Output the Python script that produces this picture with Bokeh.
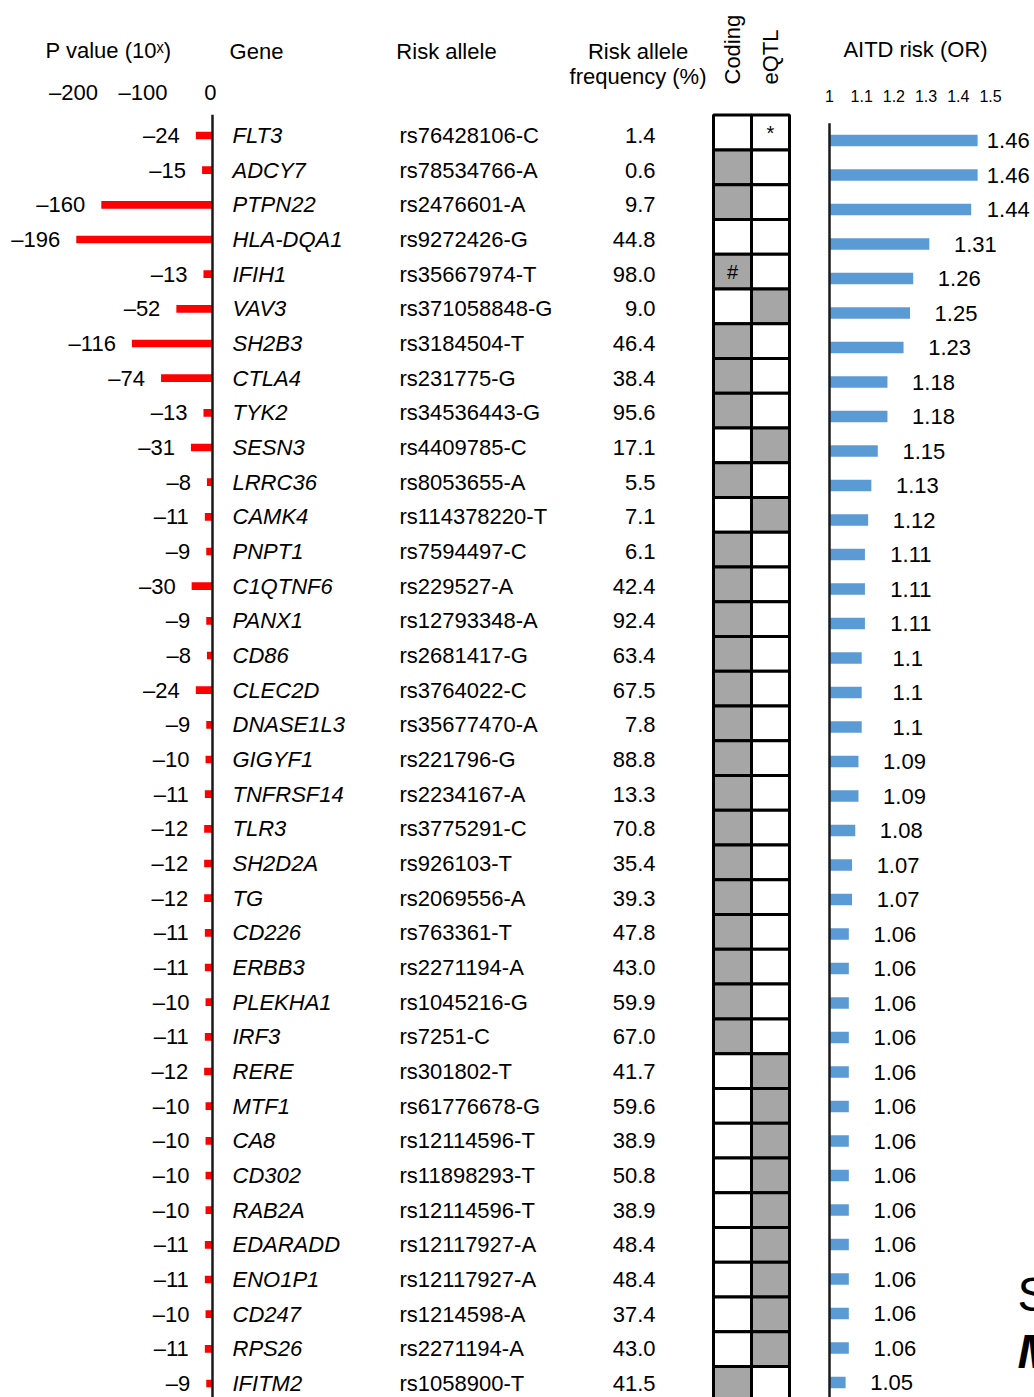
from bokeh.plotting import figure
from bokeh.layouts import row
from bokeh.models import Range1d, FactorRange, FixedTicker, ColumnDataSource
from bokeh.core.properties import value
from bokeh.embed import file_html
from bokeh.resources import INLINE

# ---------------- data ----------------
genes = ["FLT3", "ADCY7", "PTPN22", "HLA-DQA1", "IFIH1", "VAV3", "SH2B3", "CTLA4",
         "TYK2", "SESN3", "LRRC36", "CAMK4", "PNPT1", "C1QTNF6", "PANX1", "CD86",
         "CLEC2D", "DNASE1L3", "GIGYF1", "TNFRSF14", "TLR3", "SH2D2A", "TG", "CD226",
         "ERBB3", "PLEKHA1", "IRF3", "RERE", "MTF1", "CA8", "CD302", "RAB2A",
         "EDARADD", "ENO1P1", "CD247", "RPS26", "IFITM2"]
alleles = ["rs76428106-C", "rs78534766-A", "rs2476601-A", "rs9272426-G", "rs35667974-T",
           "rs371058848-G", "rs3184504-T", "rs231775-G", "rs34536443-G", "rs4409785-C",
           "rs8053655-A", "rs114378220-T", "rs7594497-C", "rs229527-A", "rs12793348-A",
           "rs2681417-G", "rs3764022-C", "rs35677470-A", "rs221796-G", "rs2234167-A",
           "rs3775291-C", "rs926103-T", "rs2069556-A", "rs763361-T", "rs2271194-A",
           "rs1045216-G", "rs7251-C", "rs301802-T", "rs61776678-G", "rs12114596-T",
           "rs11898293-T", "rs12114596-T", "rs12117927-A", "rs12117927-A", "rs1214598-A",
           "rs2271194-A", "rs1058900-T"]
freqs = ["1.4", "0.6", "9.7", "44.8", "98.0", "9.0", "46.4", "38.4", "95.6", "17.1",
         "5.5", "7.1", "6.1", "42.4", "92.4", "63.4", "67.5", "7.8", "88.8", "13.3",
         "70.8", "35.4", "39.3", "47.8", "43.0", "59.9", "67.0", "41.7", "59.6", "38.9",
         "50.8", "38.9", "48.4", "48.4", "37.4", "43.0", "41.5"]
p_exp = [-24, -15, -160, -196, -13, -52, -116, -74, -13, -31, -8, -11, -9, -30, -9, -8,
         -24, -9, -10, -11, -12, -12, -12, -11, -11, -10, -11, -12, -10, -10, -10, -10,
         -11, -11, -10, -11, -9]
coding = [0, 1, 1, 0, 1, 0, 1, 1, 1, 0, 1, 0, 1, 1, 1, 1, 1, 1, 1, 1, 1, 1, 1, 1, 1, 1, 1,
          0, 0, 0, 0, 0, 0, 0, 0, 0, 1]
eqtl = [0, 0, 0, 0, 0, 1, 0, 0, 0, 1, 0, 1, 0, 0, 0, 0, 0, 0, 0, 0, 0, 0, 0, 0, 0, 0, 0,
        1, 1, 1, 1, 1, 1, 1, 1, 1, 0]
coding_marks = [""] * 4 + ["#"] + [""] * 32
eqtl_marks = ["*"] + [""] * 36
or_vals = [1.46, 1.46, 1.44, 1.31, 1.26, 1.25, 1.23, 1.18, 1.18, 1.15, 1.13, 1.12, 1.11,
           1.11, 1.11, 1.10, 1.10, 1.10, 1.09, 1.09, 1.08, 1.07, 1.07, 1.06, 1.06, 1.06,
           1.06, 1.06, 1.06, 1.06, 1.06, 1.06, 1.06, 1.06, 1.06, 1.06, 1.05]
or_labels = ["1.46", "1.46", "1.44", "1.31", "1.26", "1.25", "1.23", "1.18", "1.18", "1.15",
             "1.13", "1.12", "1.11", "1.11", "1.11", "1.1", "1.1", "1.1", "1.09", "1.09",
             "1.08", "1.07", "1.07", "1.06", "1.06", "1.06", "1.06", "1.06", "1.06", "1.06",
             "1.06", "1.06", "1.06", "1.06", "1.06", "1.06", "1.05"]
p_ticks = [-200, -100, 0]
p_tick_labels = ["\u2013200", "\u2013100", "0"]
or_ticks = [1.0, 1.1, 1.2, 1.3, 1.4, 1.5]
or_tick_labels = ["1", "1.1", "1.2", "1.3", "1.4", "1.5"]
box_columns = ["Coding", "eQTL"]
headers = ["Gene\n ", "Risk allele\n ", "Risk allele\nfrequency (%)"]
side_letters = ["S", "M"]

# ---------------- layout helpers ----------------
FONT = "Liberation Sans"
H = 1397
TOP = 110
FRAME_TOP = TOP
FRAME_BOT = H
rows = list(range(1, len(genes) + 1))


def row_range(first_px, pitch):
    return Range1d(start=1 + (FRAME_BOT - first_px) / pitch,
                   end=1 + (FRAME_TOP - first_px) / pitch)


def make_fig(width, x_range, y_range):
    p = figure(width=width, height=H, x_range=x_range, y_range=y_range,
               output_backend="svg", toolbar_location=None,
               x_axis_location="above", y_axis_location=None,
               min_border_left=0, min_border_right=0, min_border_top=TOP,
               min_border_bottom=0, outline_line_color=None,
               background_fill_color="white", border_fill_color="white")
    p.grid.visible = False
    ax = p.xaxis[0]
    ax.axis_line_color = None
    ax.major_tick_line_color = None
    ax.minor_tick_line_color = None
    ax.major_tick_out = 0
    ax.major_tick_in = 0
    ax.minor_tick_out = 0
    ax.minor_tick_in = 0
    ax.major_label_text_font = FONT
    ax.major_label_text_font_size = "22px"
    ax.major_label_text_color = "black"
    ax.axis_label_text_font = FONT
    ax.axis_label_text_font_size = "22px"
    ax.axis_label_text_font_style = "normal"
    ax.axis_label_text_color = "black"
    return p, ax


text_y = row_range(135, 34.667)

# ---------------- P value panel ----------------
PX_P = 0.695
wa = 216
pa, axa = make_fig(wa, Range1d(-212 / PX_P, (wa - 212) / PX_P), text_y)
axa.ticker = FixedTicker(ticks=p_ticks)
axa.major_label_overrides = dict(zip(p_ticks, p_tick_labels))
axa.axis_label = "P value (10\u02e3)"
axa.major_label_standoff = 6
axa.axis_label_standoff = 14
p_src = ColumnDataSource(dict(y=rows, v=p_exp,
                              lab=["\u2013" + str(abs(v)) for v in p_exp]))
pa.hbar(y="y", left="v", right=0, height=0.22, fill_color="#ff0000",
        line_color=None, source=p_src)
pa.segment(x0=0, y0=0.4, x1=0, y1=40, line_color="#1a1a1a", line_width=2.5)
pa.text(x="v", y="y", text="lab", source=p_src, x_offset=-16, text_align="right",
        text_baseline="middle", text_font=value(FONT), text_font_size="22px",
        text_color="black")

# ---------------- text columns panel ----------------
wb = 490
pb, axb = make_fig(wb, Range1d(0, wb), text_y)
head_x = [40, 230, 422]
axb.ticker = FixedTicker(ticks=head_x)
axb.major_label_overrides = dict(zip(head_x, headers))
axb.major_label_standoff = 22
axb.major_label_text_line_height = 1.0
t_src = ColumnDataSource(dict(y=rows, g=genes, a=alleles, f=freqs))
common = dict(text_baseline="middle", text_font=value(FONT), text_font_size="22px",
              text_color="black", source=t_src)
pb.text(x=16, y="y", text="g", text_align="left", text_font_style="italic", **common)
pb.text(x=183, y="y", text="a", text_align="left", **common)
pb.text(x=439, y="y", text="f", text_align="right", **common)

# ---------------- coding / eQTL panel ----------------
wc = 90
pc, axc = make_fig(wc, FactorRange(factors=box_columns, range_padding=7 / 38,
                                   range_padding_units="absolute"),
                   row_range(132, 34.76))
axc.major_label_orientation = "vertical"
axc.major_label_standoff = 26
cx, cy, cf, cm = [], [], [], []
for r, c, e, mc, me in zip(rows, coding, eqtl, coding_marks, eqtl_marks):
    cx += [box_columns[0], box_columns[1]]
    cy += [r, r]
    cf += ["#a6a6a6" if c else "white", "#a6a6a6" if e else "white"]
    cm += [mc, me]
c_src = ColumnDataSource(dict(x=cx, y=cy, f=cf, m=cm))
pc.rect(x="x", y="y", width=1, height=1, fill_color="f", line_color="black",
        line_width=3, source=c_src)
pc.text(x="x", y="y", text="m", source=c_src, text_align="center",
        text_baseline="middle", text_font=value(FONT), text_font_size="20px",
        text_color="black")

# ---------------- OR panel ----------------
PX_OR = 322
wd = 238
pd_, axd = make_fig(wd, Range1d(1 - 33 / PX_OR, 1 + (wd - 33) / PX_OR),
                    row_range(140, 34.5))
axd.ticker = FixedTicker(ticks=or_ticks)
axd.major_label_overrides = dict(zip(or_ticks, or_tick_labels))
axd.major_label_text_font_size = "16px"
axd.axis_label = "AITD risk (OR)"
axd.major_label_standoff = 9
axd.axis_label_standoff = 25
lab_x = [min(v + 46 / PX_OR, 1.555) for v in or_vals]
o_src = ColumnDataSource(dict(y=rows, v=or_vals, lab=or_labels, lx=lab_x))
pd_.hbar(y="y", left=1, right="v", height=0.34, fill_color="#5b9bd5",
         line_color=None, source=o_src)
pd_.segment(x0=1, y0=0.5, x1=1, y1=40, line_color="#1a1a1a", line_width=2.5)
pd_.text(x="lx", y="y", text="lab", source=o_src, text_align="center",
         text_baseline="middle", text_font=value(FONT), text_font_size="22px",
         text_color="black")
sx = 1 + (1017 - 829) / PX_OR
pd_.text(x=[sx], y=[34.45], text=side_letters[:1], text_align="left",
         text_baseline="middle", text_font=value(FONT), text_font_size="48px",
         text_color="black")
pd_.text(x=[sx], y=[36.1], text=side_letters[1:], text_align="left",
         text_baseline="middle", text_font=value(FONT), text_font_size="48px",
         text_font_style="bold italic", text_color="black")

layout = row(pa, pb, pc, pd_, spacing=0)
open("out.html", "w").write(file_html(layout, INLINE, title="AITD loci"))
